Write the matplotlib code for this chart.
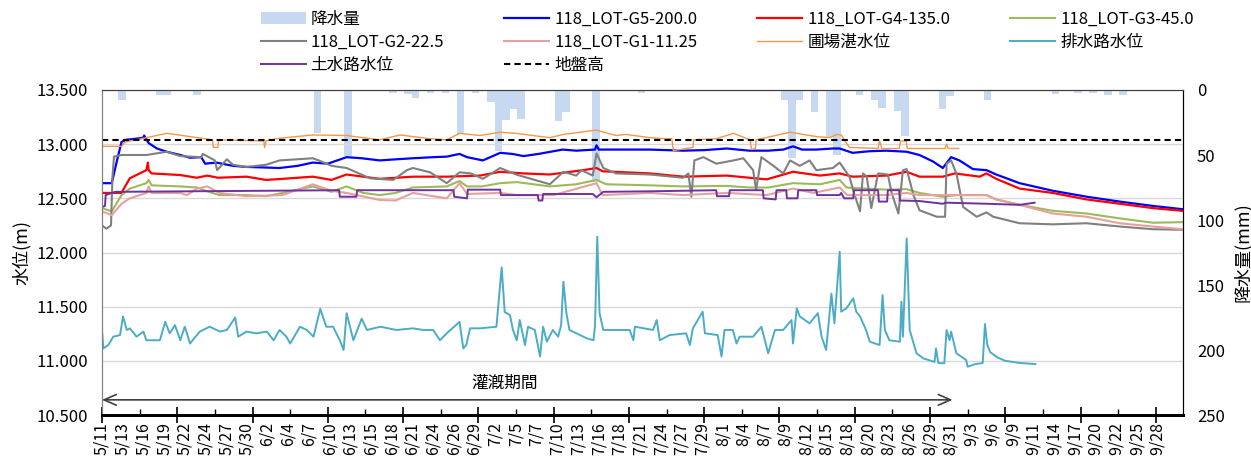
import numpy as np
import matplotlib.pyplot as plt
from matplotlib.ticker import FormatStrFormatter, FixedLocator

plt.rcParams['font.family'] = ['Noto Sans CJK JP', 'DejaVu Sans']
plt.rcParams['font.size'] = 11

# x = days since 5/11 00:00
xlabels = ['5/11', '5/13', '5/16', '5/19', '5/22', '5/24', '5/27', '5/30', '6/2', '6/4',
           '6/7', '6/10', '6/13', '6/15', '6/18', '6/21', '6/24', '6/26', '6/29', '7/2',
           '7/5', '7/7', '7/10', '7/13', '7/16', '7/18', '7/21', '7/24', '7/27', '7/29',
           '8/1', '8/4', '8/7', '8/9', '8/12', '8/15', '8/18', '8/20', '8/23', '8/26',
           '8/29', '8/31', '9/3', '9/6', '9/9', '9/11', '9/14', '9/17', '9/20', '9/22',
           '9/25', '9/28']

# daily rain (day index, mm)
rain = [(2, 8), (7, 4), (8, 4), (12, 4), (13, 1), (14, 1), (20, 1), (28, 33), (32, 51),
        (38, 2), (40, 3), (41, 6), (43, 2), (45, 2), (47, 34), (49, 2), (51, 9), (52, 47),
        (53, 23), (54, 15), (55, 22), (60, 24), (61, 17), (65, 71), (71, 2), (82, 1),
        (90, 8), (91, 52), (92, 8), (94, 17), (95, 1), (96, 36), (97, 50), (100, 4),
        (102, 8), (103, 14), (105, 16), (106, 35), (111, 15), (112, 5), (117, 8),
        (126, 3), (129, 2), (131, 2), (133, 4), (135, 4), (139, 1)]

g5 = [(0, 12.64), (1.3, 12.64), (2.0, 12.85), (2.6, 13.02), (3.2, 13.04), (4.5, 13.05),
      (5.5, 13.06), (5.6, 13.08), (6.2, 13.01), (7.3, 12.96), (8.6, 12.93), (10.4, 12.90),
      (11.7, 12.875), (13.2, 12.88), (13.7, 12.82), (15.2, 12.83), (17.4, 12.80),
      (19.2, 12.79), (23.6, 12.78), (26, 12.80), (28, 12.83), (30, 12.82), (32.5, 12.88),
      (34.5, 12.87), (36.9, 12.85), (39, 12.86), (41.3, 12.87), (44, 12.88), (45.8, 12.885),
      (47.5, 12.91), (48.5, 12.88), (50.6, 12.85), (52.9, 12.92), (54.5, 12.91),
      (56, 12.89), (58, 12.91), (61.2, 12.95), (63, 12.94), (65.5, 12.95), (65.7, 12.99),
      (66, 12.95), (68, 12.95), (72.8, 12.95), (77.2, 12.94), (80, 12.945), (83, 12.96),
      (86, 12.94), (88.5, 12.94), (90.5, 12.95), (91.8, 12.98), (93, 12.95), (94.9, 12.95),
      (97.1, 12.96), (98, 12.96), (99.7, 12.92), (102, 12.935), (104.2, 12.94),
      (106.9, 12.93), (108.6, 12.90), (110.4, 12.84), (111.7, 12.78), (112.8, 12.88),
      (113.9, 12.85), (115.7, 12.77), (117.5, 12.76), (118.8, 12.72), (121.9, 12.64),
      (126.3, 12.57), (130.8, 12.515), (135.2, 12.47), (139.6, 12.43), (143.5, 12.40)]

g4 = [(0, 12.55), (2.6, 12.55), (3.0, 12.60), (3.7, 12.685), (5.9, 12.76), (6.1, 12.83),
      (6.2, 12.76), (6.6, 12.73), (10.4, 12.715), (12.6, 12.69), (14.0, 12.71),
      (15.4, 12.69), (19.2, 12.70), (21.8, 12.67), (24, 12.68), (28, 12.70), (30.5, 12.67),
      (32.5, 12.72), (36.9, 12.68), (41.3, 12.70), (45.8, 12.70), (50.2, 12.71),
      (52.9, 12.745), (56, 12.73), (59.5, 12.72), (63.9, 12.76), (65.7, 12.78),
      (66.5, 12.75), (72.8, 12.73), (77.2, 12.70), (83, 12.71), (88.3, 12.675),
      (91.8, 12.745), (95.4, 12.71), (98, 12.73), (99.7, 12.70), (104.2, 12.71),
      (106.9, 12.745), (108.6, 12.70), (111.7, 12.70), (113.3, 12.73), (116.6, 12.70),
      (117.5, 12.73), (118.8, 12.68), (121.9, 12.59), (126.3, 12.55), (130.8, 12.49),
      (135.2, 12.45), (139.6, 12.41), (143.5, 12.385)]

g3 = [(0, 12.41), (1.3, 12.38), (2.6, 12.53), (3.7, 12.59), (5.9, 12.64), (6.2, 12.67),
      (6.6, 12.62), (10.4, 12.61), (12.6, 12.60), (14.2, 12.56), (15.6, 12.53),
      (19.2, 12.53), (21.8, 12.52), (24, 12.55), (28, 12.61), (30.5, 12.56), (32.5, 12.61),
      (34.7, 12.55), (36.9, 12.53), (39, 12.55), (41.3, 12.60), (45.8, 12.61),
      (47.5, 12.66), (48.5, 12.61), (50.5, 12.61), (52.9, 12.64), (55.1, 12.65),
      (59.5, 12.61), (63, 12.63), (65.7, 12.67), (67, 12.63), (72.8, 12.62), (77.2, 12.61),
      (83, 12.615), (86, 12.60), (88.5, 12.60), (91.8, 12.64), (95.4, 12.63), (98, 12.67),
      (98.9, 12.60), (104.2, 12.58), (106.9, 12.585), (108.6, 12.55), (111.7, 12.515),
      (113.5, 12.53), (117.5, 12.53), (118.8, 12.49), (121.9, 12.44), (126.3, 12.385),
      (130.8, 12.36), (135.2, 12.315), (139.6, 12.275), (143.5, 12.28)]

g2 = [(0, 12.25), (0.6, 12.22), (1.2, 12.25), (1.4, 12.70), (1.6, 12.885), (2.6, 12.90),
      (5.9, 12.90), (8.6, 12.93), (10.4, 12.89), (13.2, 12.88), (13.4, 12.91),
      (15.0, 12.85), (15.3, 12.76), (16.6, 12.86), (17.4, 12.81), (19.2, 12.79),
      (21.8, 12.81), (23.6, 12.85), (28, 12.87), (28.8, 12.85), (30.5, 12.80),
      (32.5, 12.78), (35.6, 12.685), (38.7, 12.67), (40.5, 12.76), (41.3, 12.78),
      (43.6, 12.74), (45.8, 12.64), (47.5, 12.74), (49, 12.73), (50.6, 12.68),
      (52.9, 12.78), (55, 12.72), (59.5, 12.63), (61.3, 12.745), (63.0, 12.71),
      (63.7, 12.76), (65.2, 12.71), (65.7, 12.915), (66.6, 12.78), (68.3, 12.73),
      (72.8, 12.72), (77.2, 12.69), (77.9, 12.73), (78.3, 12.515), (78.7, 12.85),
      (79.9, 12.88), (81.6, 12.82), (83.9, 12.85), (85.2, 12.87), (86.5, 12.76),
      (86.9, 12.58), (87.6, 12.88), (89.2, 12.80), (90.5, 12.73), (91.4, 12.85),
      (92.7, 12.80), (94.0, 12.85), (94.9, 12.76), (97.1, 12.78), (98.0, 12.83),
      (99.3, 12.70), (99.9, 12.55), (100.7, 12.38), (101.1, 12.73), (101.6, 12.70),
      (102.2, 12.41), (103.1, 12.73), (104.4, 12.72), (104.9, 12.55), (105.8, 12.36),
      (106.4, 12.76), (106.9, 12.77), (107.8, 12.53), (108.6, 12.39), (110.9, 12.33),
      (112.0, 12.33), (112.2, 12.82), (112.8, 12.85), (113.5, 12.73), (114.4, 12.42),
      (116.2, 12.33), (117.5, 12.37), (118.4, 12.33), (121.9, 12.27), (126.3, 12.26),
      (130.8, 12.27), (135.2, 12.24), (139.6, 12.215), (143.5, 12.21)]

g1 = [(0, 12.38), (1.3, 12.345), (2.6, 12.45), (3.7, 12.50), (5.9, 12.55), (6.2, 12.61),
      (6.6, 12.55), (10.4, 12.55), (11.3, 12.53), (12.6, 12.59), (14, 12.61),
      (15.6, 12.55), (19.2, 12.52), (24, 12.53), (28, 12.63), (30.5, 12.57),
      (32.5, 12.55), (36.9, 12.485), (39, 12.48), (41.3, 12.55), (45.8, 12.50),
      (47.5, 12.64), (48.5, 12.54), (52.9, 12.55), (55.1, 12.53), (60, 12.53),
      (65.7, 12.64), (66.5, 12.53), (72.8, 12.55), (77.2, 12.53), (83, 12.55),
      (88.3, 12.53), (91.8, 12.59), (94.5, 12.55), (98, 12.60), (99, 12.53),
      (104.2, 12.53), (106.9, 12.55), (108.6, 12.53), (111.7, 12.53), (117.5, 12.53),
      (118.8, 12.49), (121.9, 12.44), (126.3, 12.36), (130.8, 12.33), (135.2, 12.27),
      (139.6, 12.24), (143.5, 12.215)]

field = [(0, 12.98), (2.6, 12.98), (3.1, 13.02), (5.9, 13.06), (8.6, 13.10), (11.7, 13.07),
         (14.7, 13.04), (14.8, 12.97), (15.4, 12.97), (15.5, 13.04), (21.5, 13.03),
         (21.6, 12.97), (21.8, 13.03), (23.6, 13.055), (28, 13.085), (32.5, 13.08),
         (36.9, 13.04), (39.6, 13.085), (43.6, 13.05), (45.8, 13.04), (47.5, 13.10),
         (50.2, 13.08), (52.9, 13.11), (55, 13.10), (59.5, 13.06), (61.3, 13.09),
         (65.7, 13.13), (68.3, 13.08), (69.6, 13.09), (72.8, 13.06), (75.0, 13.05),
         (75.7, 13.05), (75.9, 12.94), (78.5, 12.97), (78.6, 13.04), (81.6, 13.05),
         (83.9, 13.10), (86.1, 13.04), (86.3, 12.95), (86.8, 12.96), (86.9, 13.04),
         (91.4, 13.11), (94.9, 13.07), (96.7, 13.06), (97.6, 13.09), (98.2, 13.085),
         (98.6, 13.04), (99.3, 12.97), (103.1, 12.96), (103.3, 13.03), (103.6, 12.96),
         (105.9, 12.96), (106.1, 13.03), (106.8, 13.03), (107.0, 12.96), (112.0, 12.96),
         (112.2, 13.0), (112.4, 12.96), (113.8, 12.96)]

drain = [(0.04, 11.254), (0.18, 11.115), (0.84, 11.146), (1.5, 11.223), (2.4, 11.238),
         (2.8, 11.41), (3.3, 11.285), (3.7, 11.30), (4.6, 11.223), (5.5, 11.27),
         (5.9, 11.19), (7.7, 11.19), (8.4, 11.36), (9.0, 11.254), (9.7, 11.33),
         (10.4, 11.19), (11.0, 11.315), (11.7, 11.16), (13.0, 11.27), (14.3, 11.315),
         (15.7, 11.27), (16.6, 11.285), (17.7, 11.40), (18.1, 11.223), (19.2, 11.27),
         (20.5, 11.254), (21.9, 11.27), (22.8, 11.19), (23.6, 11.285), (24.5, 11.223),
         (25.0, 11.16), (26.3, 11.315), (27.2, 11.285), (28.1, 11.223), (29.0, 11.48),
         (29.8, 11.315), (30.7, 11.315), (31.6, 11.19), (32.1, 11.10), (32.5, 11.44),
         (33.4, 11.19), (34.5, 11.39), (35.2, 11.285), (37.0, 11.315), (39.1, 11.285),
         (41.3, 11.30), (42.7, 11.285), (44.0, 11.285), (44.9, 11.19), (45.8, 11.254),
         (47.5, 11.36), (48.0, 11.115), (48.4, 11.146), (48.9, 11.30), (50.2, 11.30),
         (52.4, 11.315), (53.1, 11.863), (53.5, 11.45), (54.2, 11.423), (54.6, 11.285),
         (55.1, 11.19), (55.5, 11.377), (56.2, 11.146), (56.6, 11.315), (57.5, 11.285),
         (58.2, 11.04), (58.6, 11.315), (59.1, 11.177), (59.9, 11.285), (60.6, 11.223),
         (61.0, 11.33), (61.3, 11.73), (61.7, 11.44), (62.1, 11.285), (64.4, 11.208),
         (65.3, 11.19), (65.5, 11.33), (65.8, 12.146), (66.1, 11.44), (66.6, 11.285),
         (68.8, 11.285), (70.1, 11.285), (70.6, 11.19), (70.8, 11.315), (73.2, 11.285),
         (73.7, 11.377), (74.1, 11.19), (75.4, 11.238), (77.6, 11.254), (78.1, 11.146),
         (78.5, 11.30), (79.8, 11.454), (80.1, 11.254), (81.8, 11.238), (82.3, 11.04),
         (82.7, 11.285), (83.8, 11.285), (84.3, 11.16), (84.7, 11.223), (86.5, 11.223),
         (87.6, 11.315), (88.5, 11.07), (89.4, 11.285), (90.5, 11.285), (91.6, 11.377),
         (91.8, 11.16), (92.3, 11.485), (92.7, 11.41), (94.0, 11.346), (95.1, 11.44),
         (95.6, 11.223), (96.2, 11.10), (96.9, 11.62), (97.3, 11.346), (98.0, 12.007),
         (98.2, 11.454), (98.9, 11.485), (99.8, 11.577), (100.2, 11.454), (100.7, 11.41),
         (101.5, 11.285), (102.0, 11.177), (103.3, 11.146), (103.7, 11.607), (104.0, 11.285),
         (104.6, 11.19), (106.0, 11.177), (106.2, 11.546), (106.4, 11.223), (106.9, 12.13),
         (107.3, 11.285), (108.2, 11.07), (109.1, 11.023), (110.6, 10.99), (110.8, 11.115),
         (111.1, 10.98), (111.9, 10.977), (112.2, 11.285), (112.6, 11.19), (112.8, 11.27),
         (113.5, 11.07), (114.8, 11.008), (115.0, 10.946), (116.0, 10.97), (117.0, 10.98),
         (117.3, 11.34), (117.6, 11.15), (118.0, 11.08), (119.0, 11.03), (120.0, 11.0),
         (122.0, 10.98), (124.0, 10.97)]

ditch = [(0, 12.42), (0.4, 12.43), (0.5, 12.53), (1.3, 12.55), (1.8, 12.56), (31.5, 12.575),
         (31.6, 12.515), (33.8, 12.515), (33.9, 12.575), (46.7, 12.575), (46.8, 12.515),
         (48.5, 12.50), (48.6, 12.58), (52.9, 12.58), (53.0, 12.53), (57.9, 12.53),
         (58.0, 12.48), (58.5, 12.48), (58.6, 12.54), (65.2, 12.54), (65.7, 12.51),
         (66.6, 12.56), (72.8, 12.565), (77.2, 12.57), (81.6, 12.575), (81.7, 12.52),
         (83.3, 12.52), (83.4, 12.575), (87.8, 12.575), (87.9, 12.50), (89.5, 12.49),
         (89.6, 12.575), (90.9, 12.575), (91.0, 12.50), (92.4, 12.50), (92.5, 12.575),
         (94.9, 12.575), (95.0, 12.53), (98.0, 12.53), (98.2, 12.55), (98.6, 12.50),
         (99.8, 12.50), (99.9, 12.575), (103.1, 12.575), (103.2, 12.47), (104.3, 12.47),
         (104.4, 12.575), (105.9, 12.575), (106.0, 12.48), (108.6, 12.475), (111.7, 12.45),
         (112.1, 12.46), (117.5, 12.45), (121.9, 12.44), (123.9, 12.46)]

ground = 13.04
irrig_start, irrig_end = 0, 113

fig = plt.figure(figsize=(12.51, 4.68), dpi=100)
ax = fig.add_axes([0.0815, 0.1132, 0.8641, 0.6945])
ax2 = ax.twinx()
ax.set_zorder(ax2.get_zorder() + 1)
ax.patch.set_visible(False)

# rain bars (inverted right axis)
rd = np.array([r[0] for r in rain]) + 0.15
rv = [r[1] for r in rain]
bars = ax2.bar(rd, rv, width=1.0, align='edge', color='#c6d9f1', label='降水量')
ax2.set_ylim(250, 0)
ax2.set_yticks(np.arange(0, 251, 50))
ax2.tick_params(axis='y', length=0, pad=10, labelsize=12)
ax2.set_ylabel('降水量(mm)', fontsize=13, labelpad=6)

def line(series, color, lw, label, **kw):
    d = [p[0] for p in series]
    v = [p[1] for p in series]
    return ax.plot(d, v, color=color, lw=lw, label=label, **kw)[0]

h5 = line(g5, '#0000ff', 1.6, '118_LOT-G5-200.0')
h4 = line(g4, '#ff0000', 1.6, '118_LOT-G4-135.0')
h3 = line(g3, '#9bbb59', 1.5, '118_LOT-G3-45.0')
h2 = line(g2, '#808080', 1.5, '118_LOT-G2-22.5')
h1 = line(g1, '#e6a09e', 1.5, '118_LOT-G1-11.25')
hf = line(field, '#f79646', 1.0, '圃場湛水位')
hd = line(drain, '#4bacc6', 1.4, '排水路水位')
hc = line(ditch, '#7030a0', 1.4, '土水路水位')
hg = ax.axhline(ground, color='black', lw=1.5, ls=(0, (3, 2)), label='地盤高')

ax.set_xlim(0, 143.6)
ax.set_ylim(10.5, 13.5)
ax.set_yticks(np.arange(10.5, 13.51, 0.5))
ax.yaxis.set_major_formatter(FormatStrFormatter('%.3f'))
ax.yaxis.grid(True, color='#d9d9d9', lw=1)
ax.set_axisbelow(True)
ax.tick_params(axis='y', length=0, pad=10, labelsize=12)
ax.set_ylabel('水位(m)', fontsize=13, labelpad=4)

ax.set_xticks([i * 2.75 for i in range(len(xlabels))])
ax.set_xticklabels(xlabels, rotation=90)
ax.tick_params(axis='x', which='major', length=0, pad=5, labelsize=11.5)

sec = ax.secondary_xaxis('bottom')
sec.set_xticks(np.arange(0, 141, 10))
sec.xaxis.set_minor_locator(FixedLocator(np.arange(5, 141, 10)))
sec.tick_params(which='major', direction='inout', length=12, width=1.2, labelbottom=False)
sec.tick_params(which='minor', direction='in', length=4, width=1)
sec.spines['bottom'].set_linewidth(2)

for a in (ax, ax2):
    a.spines['left'].set_color('#808080')
    a.spines['top'].set_color('#404040')
    a.spines['right'].set_color('black')
    a.spines['bottom'].set_color('black')
    a.spines['bottom'].set_linewidth(2)

ax.annotate('', xy=(irrig_start, 10.64), xytext=(irrig_end, 10.64),
            arrowprops=dict(arrowstyle='<->,head_length=0.8,head_width=0.35',
                            color='#404040', lw=1.2, shrinkA=0, shrinkB=0))
ax.text(53.5, 10.79, '灌漑期間', ha='center', va='center', fontsize=12)

handles = [bars, h2, hc, h5, h1, hg, h4, hf, h3, hd]
fig.legend(handles=handles, labels=[h.get_label() for h in handles], ncol=4,
           loc='upper left', bbox_to_anchor=(0.203, 0.9915), frameon=False,
           fontsize=12, handlelength=2.7, handletextpad=0.3, columnspacing=3.6,
           labelspacing=0.38, borderaxespad=0.0)

fig.savefig('out.png', dpi=100)
